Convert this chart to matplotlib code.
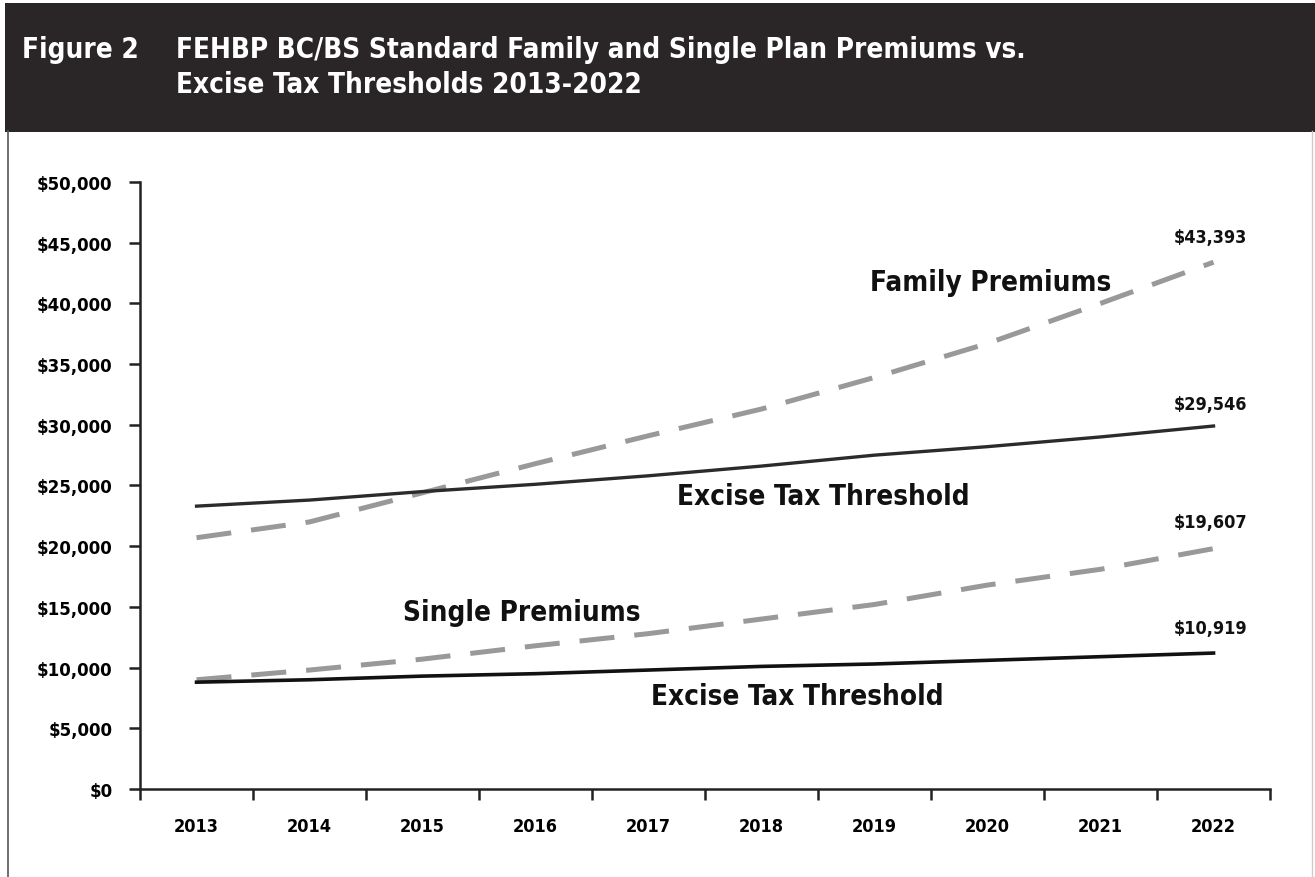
import matplotlib
matplotlib.use("Agg")
import matplotlib.pyplot as plt
from matplotlib.patches import Rectangle
from matplotlib.lines import Line2D
from matplotlib.ticker import FuncFormatter, FixedLocator

plt.rcParams["font.family"] = ["DejaVu Sans"]
plt.rcParams["font.stretch"] = "condensed"
plt.rcParams["font.weight"] = "bold"

years = [2013, 2014, 2015, 2016, 2017, 2018, 2019, 2020, 2021, 2022]
family_premiums = [20700, 22000, 24400, 26800, 29100, 31300, 33900, 36700, 40000, 43393]
family_threshold = [23300, 23800, 24500, 25100, 25800, 26600, 27500, 28200, 29000, 29900]
single_premiums = [9000, 9800, 10700, 11800, 12800, 14000, 15200, 16800, 18100, 19800]
single_threshold = [8800, 9000, 9300, 9500, 9800, 10100, 10300, 10600, 10900, 11200]
end_labels = ["$43,393", "$29,546", "$19,607", "$10,919"]

fig = plt.figure(figsize=(13.15, 8.78), dpi=100)

# header band and frame
fig.add_artist(Rectangle((0.004, 0.849), 0.996, 0.147, transform=fig.transFigure,
                         facecolor="#2a2627", edgecolor="none"))
fig.add_artist(Line2D([0.006, 0.006], [0.0, 0.85], transform=fig.transFigure,
                      color="#555555", lw=1.2))
fig.add_artist(Line2D([0.998, 0.998], [0.0, 0.85], transform=fig.transFigure,
                      color="#cccccc", lw=1.0))
fig.text(0.017, 0.943, "Figure 2", color="white", fontsize=20, va="center")
fig.text(0.134, 0.943, "FEHBP BC/BS Standard Family and Single Plan Premiums vs.",
         color="white", fontsize=20, va="center")
fig.text(0.134, 0.903, "Excise Tax Thresholds 2013-2022", color="white",
         fontsize=20, va="center")

ax = fig.add_axes([0.1065, 0.1002, 0.8593, 0.6914])
x = list(range(len(years)))

ax.plot(x, family_premiums, color="#999999", lw=3.6, dashes=(7, 4))
ax.plot(x, family_threshold, color="#2b2b2b", lw=2.4)
ax.plot(x, single_premiums, color="#999999", lw=3.6, dashes=(7, 4))
ax.plot(x, single_threshold, color="#111111", lw=2.6)

ax.set_xlim(-0.5, 9.5)
ax.set_ylim(0, 50000)
ax.set_yticks(range(0, 50001, 5000))
ax.yaxis.set_major_formatter(FuncFormatter(lambda v, p: f"${v:,.0f}"))
ax.xaxis.set_major_locator(FixedLocator([i - 0.5 for i in range(11)]))
ax.xaxis.set_major_formatter(FuncFormatter(lambda v, p: ""))
ax.xaxis.set_minor_locator(FixedLocator(x))
ax.set_xticklabels([str(y) for y in years], minor=True)
ax.tick_params(axis="x", which="minor", length=0, pad=20, labelsize=13)
ax.tick_params(axis="x", which="major", length=8, width=1.8, direction="out", color="#222222")
ax.tick_params(axis="y", length=8, width=1.8, labelsize=13.3, pad=12, color="#222222")
for s in ["top", "right"]:
    ax.spines[s].set_visible(False)
for s in ["left", "bottom"]:
    ax.spines[s].set_linewidth(1.8)
    ax.spines[s].set_color("#222222")

# series labels
ax.text(7.03, 41800, "Family Premiums", fontsize=20, ha="center", va="center", color="#111111")
ax.text(5.55, 24100, "Excise Tax Threshold", fontsize=20, ha="center", va="center", color="#111111")
ax.text(2.88, 14600, "Single Premiums", fontsize=20, ha="center", va="center", color="#111111")
ax.text(5.32, 7700, "Excise Tax Threshold", fontsize=20, ha="center", va="center", color="#111111")

# end value labels
for series, lab, dy in [(family_premiums, end_labels[0], 2100), (family_threshold, end_labels[1], 1800),
                        (single_premiums, end_labels[2], 2200), (single_threshold, end_labels[3], 2100)]:
    ax.text(8.97, series[-1] + dy, lab, fontsize=13, ha="center", va="center", color="#111111")

fig.savefig("out.png", dpi=100, facecolor="white")
